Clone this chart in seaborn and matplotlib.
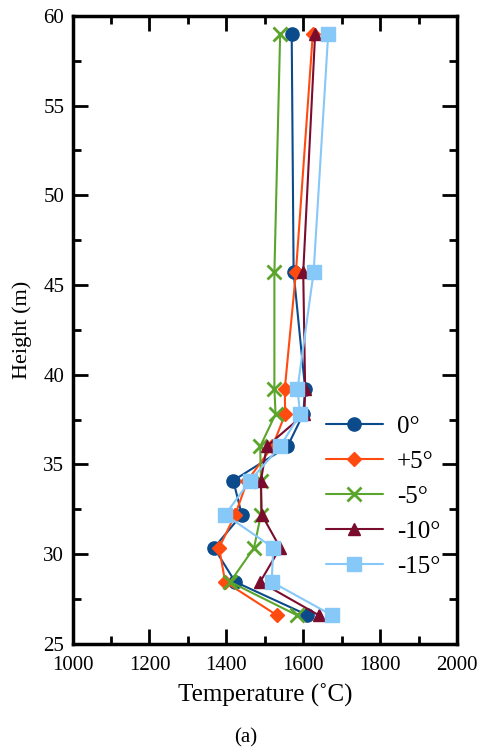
import matplotlib
matplotlib.use("Agg")
import matplotlib.pyplot as plt
import numpy as np
import pandas as pd
import seaborn as sns

# Heights (m) shared by all series
height = [59.0, 45.7, 39.2, 37.8, 36.0, 34.1, 32.2, 30.35, 28.45, 26.6]

# Temperature (deg C) per angle
t_0 = [1570, 1575, 1605, 1600, 1559, 1418, 1440, 1368, 1423, 1611]
t_p5 = [1625, 1581, 1552, 1553, 1520, 1455, 1423, 1381, 1397, 1531]
t_m5 = [1540, 1525, 1525, 1528, 1488, 1490, 1490, 1472, 1410, 1583]
t_m10 = [1631, 1600, 1605, 1603, 1505, 1490, 1492, 1540, 1488, 1640]
t_m15 = [1665, 1627, 1585, 1592, 1540, 1462, 1397, 1522, 1518, 1674]

labels = ["0°", "+5°", "-5°", "-10°", "-15°"]
colors = ["#0b4a8b", "#ff4a10", "#5ba52c", "#7a0d2e", "#86c8f8"]
markers = ["o", "D", "x", "^", "s"]
msizes = [9.5, 7.5, 10, 8.5, 9.5]

sns.set_theme(style="ticks", rc={"axes.edgecolor": "black", "xtick.color": "black",
                                 "ytick.color": "black", "text.color": "black",
                                 "axes.labelcolor": "black"})
plt.rcParams["font.family"] = ["Liberation Serif", "DejaVu Serif"]

series = [t_0, t_p5, t_m5, t_m10, t_m15]

fig = plt.figure(figsize=(4.81, 7.53), dpi=100)
ax = fig.add_axes([0.151, 0.145, 0.799, 0.834])

for s, lab, c, m, ms in zip(series, labels, colors, markers, msizes):
    d = pd.DataFrame({"temp": s, "height": height})
    sns.lineplot(data=d, x="temp", y="height", sort=False, estimator=None,
                 color=c, marker=m, markersize=ms, markeredgecolor=c,
                 markeredgewidth=2 if m == "x" else 1.0,
                 linewidth=1.5, label=lab, ax=ax)

ax.set_xlim(1000, 2000)
ax.set_ylim(25, 60)
ax.set_xticks(np.arange(1000, 2001, 200))
ax.set_xticks(np.arange(1100, 2000, 200), minor=True)
ax.set_yticks(np.arange(25, 61, 5))
ax.set_yticks(np.arange(27.5, 60, 5), minor=True)
ax.tick_params(which="both", direction="in", top=True, right=True, width=2,
               labelsize=15, pad=6)
ax.tick_params(axis="x", which="both", pad=9)
ax.tick_params(which="major", length=11)
ax.tick_params(which="minor", length=6)
for sp in ax.spines.values():
    sp.set_linewidth(2.5)

ax.set_xlabel("Temperature (˚C)", fontsize=18, labelpad=6)
ax.set_ylabel("Height (m)", fontsize=16, labelpad=8)

leg = ax.legend(loc="upper left", bbox_to_anchor=(0.6, 0.40), frameon=False,
                fontsize=18, handlelength=2.3, handletextpad=0.55, labelspacing=0.5)

fig.text(0.51, 0.02, "(a)", ha="center", va="center", fontsize=15)

fig.savefig("out.png", dpi=100)
plt.close(fig)
